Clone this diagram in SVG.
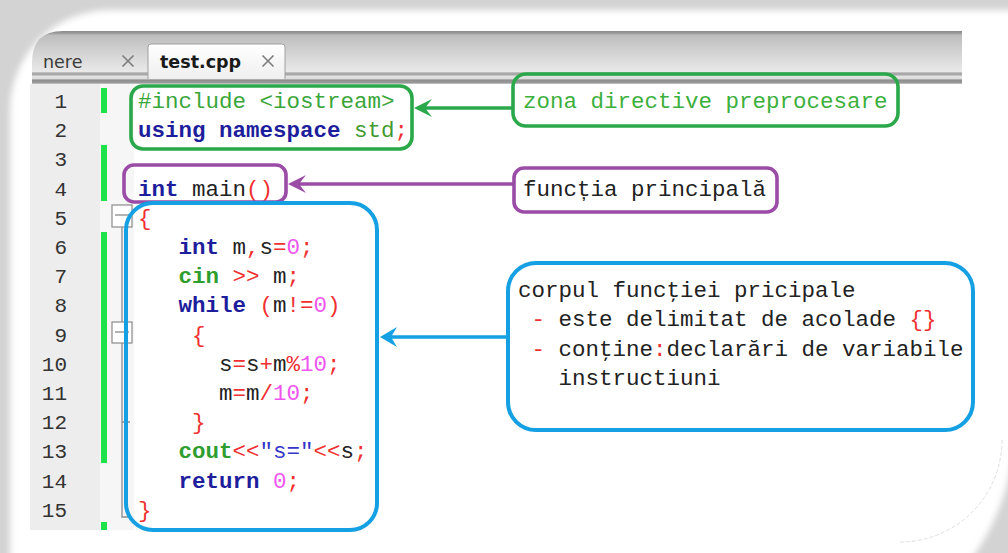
<svg xmlns="http://www.w3.org/2000/svg" width="1008" height="553" viewBox="0 0 1008 553">
  <defs>
    <style>
      .code { font-family: "Courier New", "Nimbus Mono PS", "Nimbus Mono L", FreeMono, "Liberation Mono", monospace; font-size: 22.5px; fill: #222; }
      .kw { font-weight: bold; fill: #1e1e9c; }
      .pp { fill: #3aa63a; }
      .lib { fill: #3f9a2f; }
      .io { font-weight: bold; fill: #2f9e2f; }
      .op { fill: #f03030; }
      .num { fill: #ee55ee; }
      .str { fill: #3535c8; }
      .ln { font-family: "Courier New", "Nimbus Mono PS", "Nimbus Mono L", FreeMono, "Liberation Mono", monospace; font-size: 21px; fill: #333; text-anchor: end; }
      .tab { font-family: "DejaVu Sans", Verdana, sans-serif; font-size: 17.5px; fill: #3a3a3a; }
      .tab-on { font-weight: bold; fill: #1a1a1a; }
      .close { stroke: #7c7c7c; stroke-width: 1.6; fill: none; }
      .chg { fill: #1ee24a; }
      .fold { fill: #fff; stroke: #8a8a8a; stroke-width: 1.2; }
      .fold-line { stroke: #8a8a8a; stroke-width: 1.3; fill: none; }
      .box { fill: none; stroke-width: 3.6; stroke-linejoin: round; }
      .g { stroke: #2aa84a; }
      .p { stroke: #9a4ca6; }
      .b { stroke: #14a0e2; stroke-width: 4; }
      .g-text { fill: #3cb03c; }
      .link { fill: none; stroke-width: 3.6; }
    </style>
    <filter id="soft" x="-5%" y="-5%" width="110%" height="110%">
      <feGaussianBlur stdDeviation="3"/>
    </filter>
    <linearGradient id="tabbar" gradientUnits="userSpaceOnUse" x1="0" y1="31" x2="0" y2="84">
      <stop offset="0" stop-color="#8a8a8a"/>
      <stop offset="0.04" stop-color="#9a9a9a"/>
      <stop offset="0.08" stop-color="#bdbdbd"/>
      <stop offset="0.36" stop-color="#d0d0d0"/>
      <stop offset="0.77" stop-color="#e9e9e9"/>
      <stop offset="0.79" stop-color="#a8a8a8"/>
      <stop offset="0.83" stop-color="#a8a8a8"/>
      <stop offset="0.85" stop-color="#e4e4e4"/>
      <stop offset="0.90" stop-color="#dcdcdc"/>
      <stop offset="0.925" stop-color="#8e8e8e"/>
      <stop offset="0.98" stop-color="#9a9a9a"/>
      <stop offset="1" stop-color="#d8d8d8"/>
    </linearGradient>
    <linearGradient id="tabon" x1="0" y1="0" x2="0" y2="1">
      <stop offset="0" stop-color="#ffffff"/>
      <stop offset="1" stop-color="#efefef"/>
    </linearGradient>
    <marker id="ah-g" markerUnits="userSpaceOnUse" viewBox="-20 -12 24 24" markerWidth="24" markerHeight="24" refX="-10" refY="0" orient="auto">
      <path d="M0,0 L-18,-9 L-11,0 L-18,9 Z" fill="#2aa84a"/>
    </marker>
    <marker id="ah-p" markerUnits="userSpaceOnUse" viewBox="-20 -12 24 24" markerWidth="24" markerHeight="24" refX="-10" refY="0" orient="auto">
      <path d="M0,0 L-18,-9 L-11,0 L-18,9 Z" fill="#9a4ca6"/>
    </marker>
    <marker id="ah-b" markerUnits="userSpaceOnUse" viewBox="-20 -12 24 24" markerWidth="24" markerHeight="24" refX="-10" refY="0" orient="auto">
      <path d="M0,0 L-17,-10 L-11,0 L-17,10 Z" fill="#14a0e2"/>
    </marker>
  </defs>

  <!-- page and picture frame -->
  <rect width="1008" height="553" fill="#d3d3d3"/>
  <path d="M10,660 L10,110 A100,100 0 0 1 110,10 L1016,10 L1016,420 A240,240 0 0 1 776,660 Z" fill="#fff" filter="url(#soft)"/>
  <path d="M1002,440 A102,102 0 0 1 900,542" fill="none" stroke="#e0e0e0" stroke-width="1" stroke-dasharray="4 2"/>

  <!-- editor window -->
  <g id="editor">
    <path d="M32,84 L32,62 Q32,31 63,31 L962,31 L962,84 Z" fill="url(#tabbar)"/>
    <text class="tab" x="43" y="68">nere</text>
    <path class="close" d="M122.5,55.5 L133.5,66.5 M133.5,55.5 L122.5,66.5"/>
    <path d="M148,79 L148,47 Q148,44 151,44 L282,44 Q285,44 285,47 L285,79" fill="url(#tabon)" stroke="#a0a0a0" stroke-width="1"/>
    <text class="tab tab-on" x="160" y="68">test.cpp</text>
    <path class="close" d="M262.5,55.5 L273.5,66.5 M273.5,55.5 L262.5,66.5"/>

    <rect x="30" y="84" width="70" height="446" fill="#ededed"/>
    <rect x="100" y="84" width="34" height="446" fill="#f6f6f6"/>
    <rect class="chg" x="101" y="88" width="6" height="25"/>
    <rect class="chg" x="101" y="145" width="6" height="56"/>
    <rect class="chg" x="101" y="232" width="6" height="231"/>
    <rect class="chg" x="101" y="522" width="6" height="8"/>

    <path class="fold-line" d="M122,227 L122,323 M122,343 L122,517 L130,517 M122,422 L130,422"/>
    <rect class="fold" x="112" y="205" width="20" height="22"/>
    <path class="fold-line" d="M115,215 L129,215"/>
    <rect class="fold" x="112" y="322" width="20" height="21"/>
    <path class="fold-line" d="M115,332 L129,332"/>

    <g id="line-numbers">
      <text class="ln" x="67" y="108">1</text>
      <text class="ln" x="67" y="137.2">2</text>
      <text class="ln" x="67" y="166.4">3</text>
      <text class="ln" x="67" y="195.6">4</text>
      <text class="ln" x="67" y="224.8">5</text>
      <text class="ln" x="67" y="254">6</text>
      <text class="ln" x="67" y="283.2">7</text>
      <text class="ln" x="67" y="312.4">8</text>
      <text class="ln" x="67" y="341.6">9</text>
      <text class="ln" x="67" y="370.8">10</text>
      <text class="ln" x="67" y="400">11</text>
      <text class="ln" x="67" y="429.2">12</text>
      <text class="ln" x="67" y="458.4">13</text>
      <text class="ln" x="67" y="487.6">14</text>
      <text class="ln" x="67" y="516.8">15</text>
    </g>

    <g id="source">
      <text class="code" x="138" y="108" xml:space="preserve"><tspan class="pp">#include &lt;iostream&gt;</tspan></text>
      <text class="code" x="138" y="137.2" xml:space="preserve"><tspan class="kw">using namespace</tspan> <tspan class="lib">std</tspan><tspan class="op">;</tspan></text>
      <text class="code" x="138" y="195.6" xml:space="preserve"><tspan class="kw">int</tspan> main<tspan class="op">()</tspan></text>
      <text class="code" x="138" y="224.8"><tspan class="op">{</tspan></text>
      <text class="code" x="178.5" y="254" xml:space="preserve"><tspan class="kw">int</tspan> m<tspan class="op">,</tspan>s<tspan class="op">=</tspan><tspan class="num">0</tspan><tspan class="op">;</tspan></text>
      <text class="code" x="178.5" y="283.2" xml:space="preserve"><tspan class="io">cin</tspan> <tspan class="op">&gt;&gt;</tspan> m<tspan class="op">;</tspan></text>
      <text class="code" x="178.5" y="312.4" xml:space="preserve"><tspan class="kw">while</tspan> <tspan class="op">(</tspan>m<tspan class="op">!=</tspan><tspan class="num">0</tspan><tspan class="op">)</tspan></text>
      <text class="code" x="192" y="341.6"><tspan class="op">{</tspan></text>
      <text class="code" x="219" y="370.8">s<tspan class="op">=</tspan>s<tspan class="op">+</tspan>m<tspan class="op">%</tspan><tspan class="num">10</tspan><tspan class="op">;</tspan></text>
      <text class="code" x="219" y="400">m<tspan class="op">=</tspan>m<tspan class="op">/</tspan><tspan class="num">10</tspan><tspan class="op">;</tspan></text>
      <text class="code" x="192" y="429.2"><tspan class="op">}</tspan></text>
      <text class="code" x="178.5" y="458.4"><tspan class="io">cout</tspan><tspan class="op">&lt;&lt;</tspan><tspan class="str">"s="</tspan><tspan class="op">&lt;&lt;</tspan>s<tspan class="op">;</tspan></text>
      <text class="code" x="178.5" y="487.6" xml:space="preserve"><tspan class="kw">return</tspan> <tspan class="num">0</tspan><tspan class="op">;</tspan></text>
      <text class="code" x="138" y="516.8"><tspan class="op">}</tspan></text>
    </g>
  </g>

  <!-- connectors -->
  <g id="connectors">
    <path class="link" stroke="#2aa84a" d="M513,108 L424,108" marker-end="url(#ah-g)"/>
    <path class="link" stroke="#9a4ca6" d="M514,184 L298,184" marker-end="url(#ah-p)"/>
    <path class="link" stroke="#14a0e2" d="M508,337 L390,337" marker-end="url(#ah-b)"/>
  </g>

  <!-- preprocessor zone -->
  <g id="preproc-zone">
    <rect class="box g" x="131" y="86" width="281" height="63" rx="12"/>
  </g>
  <g id="preproc-label">
    <rect class="box g" x="513" y="74" width="385" height="52" rx="13"/>
    <text class="code g-text" x="523" y="108">zona directive preprocesare</text>
  </g>

  <!-- main function header -->
  <g id="main-header">
    <rect class="box p" x="124" y="165" width="162" height="37" rx="10"/>
  </g>
  <g id="main-label">
    <rect class="box p" x="514" y="168" width="263" height="44" rx="10"/>
    <text class="code" x="523" y="195.6">funcția principală</text>
  </g>

  <!-- main function body -->
  <g id="main-body">
    <rect class="box b" x="126" y="203" width="251" height="327" rx="27"/>
  </g>
  <g id="body-label">
    <rect class="box b" x="508" y="263" width="465" height="167" rx="28"/>
    <text class="code" x="518" y="297">corpul funcţiei pricipale</text>
    <text class="code" x="518" y="326.3" xml:space="preserve"> <tspan class="op">-</tspan> este delimitat de acolade <tspan class="op">{}</tspan></text>
    <text class="code" x="518" y="355.6" xml:space="preserve"> <tspan class="op">-</tspan> conţine<tspan class="op">:</tspan>declarări de variabile</text>
    <text class="code" x="518" y="385" xml:space="preserve">   instructiuni</text>
  </g>
</svg>
